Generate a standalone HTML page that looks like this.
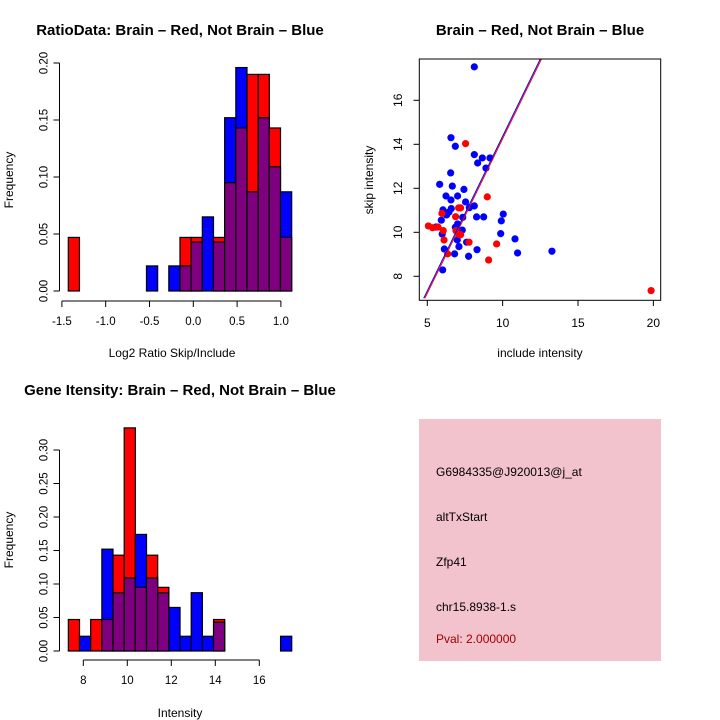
<!DOCTYPE html>
<html><head><meta charset="utf-8"><style>
body{margin:0;background:#fff}
svg{display:block;font-family:"Liberation Sans",sans-serif}
</style></head><body>
<svg id="c" width="720" height="720" viewBox="0 0 720 720">
<rect width="720" height="720" fill="#fff"/>
<text x="180" y="35" text-anchor="middle" font-size="15" font-weight="bold">RatioData: Brain – Red, Not Brain – Blue</text>
<text x="540" y="35" text-anchor="middle" font-size="15" font-weight="bold">Brain – Red, Not Brain – Blue</text>
<text x="180" y="395" text-anchor="middle" font-size="15" font-weight="bold">Gene Itensity: Brain – Red, Not Brain – Blue</text>
<text x="172" y="357" text-anchor="middle" font-size="12">Log2 Ratio Skip/Include</text>
<text x="540" y="357" text-anchor="middle" font-size="12">include intensity</text>
<text x="180" y="717" text-anchor="middle" font-size="12">Intensity</text>
<text transform="translate(13,180) rotate(-90)" text-anchor="middle" font-size="12">Frequency</text>
<text transform="translate(373,180) rotate(-90)" text-anchor="middle" font-size="12">skip intensity</text>
<text transform="translate(13,540) rotate(-90)" text-anchor="middle" font-size="12">Frequency</text>
<g>
<rect x="419" y="419" width="242" height="242" fill="#f2c2cd"/>
<text x="436" y="476" font-size="12">G6984335@J920013@j_at</text>
<text x="436" y="521" font-size="12">altTxStart</text>
<text x="436" y="566" font-size="12">Zfp41</text>
<text x="436" y="611" font-size="12">chr15.8938-1.s</text>
<text x="436" y="643" font-size="12" fill="#a00000">Pval: 2.000000</text>
</g>
</svg>
<script>
// Ratio histogram data
const ratioStart = -1.427, ratioWidth = 0.1275;
const ratioRed  = [0.047,0,0,0,0,0,0,0,0,0,0.047,0.047,0,0.047,0.095,0.143,0.19,0.19,0.143,0.047];
const ratioBlue = [0,0,0,0,0,0,0,0.022,0,0.022,0.022,0.043,0.065,0.043,0.152,0.196,0.087,0.152,0.109,0.087];
const ratioXTicks = [-1.5,-1.0,-0.5,0.0,0.5,1.0];
const ratioXLabels = ["-1.5","-1.0","-0.5","0.0","0.5","1.0"];
const ratioYTicks = [0,0.05,0.10,0.15,0.20];
const ratioYLabels = ["0.00","0.05","0.10","0.15","0.20"];
// Intensity histogram data
const intStart = 7.32, intWidth = 0.5077;
const intRed  = [0.047,0,0.047,0.047,0.143,0.333,0.095,0.143,0.095,0,0,0,0,0.047,0,0,0,0,0,0];
const intBlue = [0,0.022,0,0.152,0.087,0.109,0.174,0.109,0.087,0.065,0.022,0.087,0.022,0.043,0,0,0,0,0,0.022];
const intXTicks = [8,10,12,14,16];
const intXLabels = ["8","10","12","14","16"];
const intYTicks = [0,0.05,0.10,0.15,0.20,0.25,0.30];
const intYLabels = ["0.00","0.05","0.10","0.15","0.20","0.25","0.30"];
// Scatter data
const blueX = [8.12,6.57,6.86,8.12,8.65,9.16,8.34,8.89,6.55,5.82,6.66,7.43,6.24,7.01,6.57,7.54,8.12,7.79,6.59,6.04,6.44,6.28,7.35,8.27,8.74,10.04,9.91,5.93,7.01,6.86,5.58,7.32,5.99,9.87,6.99,7.61,10.82,6.13,7.1,8.3,13.27,10.99,6.81,7.74,6.02];
const blueY = [17.52,14.3,13.91,13.53,13.38,13.38,13.15,12.92,12.7,12.18,12.1,11.95,11.65,11.65,11.47,11.38,11.2,11.12,11.08,11.02,10.92,10.79,10.68,10.7,10.7,10.83,10.52,10.55,10.38,10.23,10.24,10.1,9.92,9.94,9.65,9.55,9.7,9.24,9.35,9.21,9.14,9.06,9.02,8.91,8.29];
const redX = [7.54,8.98,7.08,7.21,5.97,6.88,5.07,5.35,5.71,6.06,6.9,7.1,7.21,7.77,9.6,6.11,6.35,9.07,19.85];
const redY = [14.03,11.61,11.11,11.11,10.86,10.71,10.29,10.21,10.24,10.08,10.08,9.91,9.89,9.55,9.47,9.65,9.02,8.74,7.35];
const fitLineX = [4.8,12.54];
const fitLineY = [7.0,17.88];
const scatXTicks = [5,10,15,20];
const scatYTicks = [8,10,12,14,16];

const svg = document.getElementById('c');
const NS = 'http://www.w3.org/2000/svg';
function mk(tag, attrs, parent){const e=document.createElementNS(NS,tag);for(const k in attrs)e.setAttribute(k,attrs[k]);(parent||svg).appendChild(e);return e;}

function histogram(name, start, width, red, blue, xTicks, xLabels, yTicks, yLabels, sx, sy, xAxisY){
  const g = mk('g',{});
  
  
  for(let i=0;i<red.length;i++){
    const x0=sx(start+i*width), x1=sx(start+(i+1)*width);
    const r=red[i], b=blue[i];
    const hi=Math.max(r,b), lo=Math.min(r,b);
    if(hi>0){
      const bar=mk('rect',{x:x0,y:sy(hi),width:x1-x0,height:sy(0)-sy(hi),fill:r>=b?'#ff0000':'#0000ff',stroke:'#000','stroke-width':1.2},g);
      
      
    }
    if(lo>0){
      const ov=mk('rect',{x:x0,y:sy(lo),width:x1-x0,height:sy(0)-sy(lo),fill:'#7f007f',stroke:'#000','stroke-width':1.2},g);
      
      
    }
  }
  const yx = 59.5;
  mk('line',{x1:yx,x2:yx,y1:sy(yTicks[0]),y2:sy(yTicks[yTicks.length-1]),stroke:'#000'},g);
  yTicks.forEach((t,i)=>{
    mk('line',{x1:yx-6,x2:yx,y1:sy(t),y2:sy(t),stroke:'#000'},g);
    const tl=mk('text',{transform:`translate(${yx-12},${sy(t)}) rotate(-90)`,'text-anchor':'middle','font-size':11.5},g);
    tl.textContent=yLabels[i];
    
    
  });
  mk('line',{x1:sx(xTicks[0]),x2:sx(xTicks[xTicks.length-1]),y1:xAxisY,y2:xAxisY,stroke:'#000'},g);
  xTicks.forEach((t,i)=>{
    mk('line',{x1:sx(t),x2:sx(t),y1:xAxisY,y2:xAxisY+6,stroke:'#000'},g);
    const tl=mk('text',{x:sx(t),y:xAxisY+24,'text-anchor':'middle','font-size':11.5},g);
    tl.textContent=xLabels[i];
    
    
  });
}

histogram('ratio-histogram', ratioStart, ratioWidth, ratioRed, ratioBlue, ratioXTicks, ratioXLabels, ratioYTicks, ratioYLabels,
  v=>193.3+(v)*87.6, v=>291-v*1140, 301);
histogram('intensity-histogram', intStart, intWidth, intRed, intBlue, intXTicks, intXLabels, intYTicks, intYLabels,
  v=>83.3+(v-8)*22, v=>651-v*670, 660);

const px = v=>427.3+(v-5)*15.07;
const py = v=>276.3-(v-8)*22;
const sg = mk('g',{});


const cp = mk('clipPath',{id:'sclip'},sg);
mk('rect',{x:419.3,y:59,width:241.4,height:241.3},cp);
for(let i=0;i<blueX.length;i++){
  const p=mk('circle',{cx:px(blueX[i]),cy:py(blueY[i]),r:3.6,fill:'#0000ff'},sg);
  
  
}
for(let i=0;i<redX.length;i++){
  const p=mk('circle',{cx:px(redX[i]),cy:py(redY[i]),r:3.6,fill:'#ff0000'},sg);
  
  
}
const l1=mk('line',{x1:px(fitLineX[0])+0.6,y1:py(fitLineY[0]),x2:px(fitLineX[1])+0.6,y2:py(fitLineY[1]),stroke:'#ff0000','stroke-width':1,'clip-path':'url(#sclip)'},sg);


const l2=mk('line',{x1:px(fitLineX[0])-0.6,y1:py(fitLineY[0]),x2:px(fitLineX[1])-0.6,y2:py(fitLineY[1]),stroke:'#0000ff','stroke-width':1,'clip-path':'url(#sclip)'},sg);


mk('rect',{x:419.3,y:59,width:241.4,height:241.3,fill:'none',stroke:'#000','stroke-width':1},sg);
scatXTicks.forEach(t=>{
  mk('line',{x1:px(t),x2:px(t),y1:300.3,y2:306,stroke:'#000'},sg);
  const tl=mk('text',{x:px(t),y:327,'text-anchor':'middle','font-size':12},sg);
  tl.textContent=String(t);
  
  
});
scatYTicks.forEach(t=>{
  mk('line',{x1:413.5,x2:419.3,y1:py(t),y2:py(t),stroke:'#000'},sg);
  const tl=mk('text',{transform:`translate(402,${py(t)}) rotate(-90)`,'text-anchor':'middle','font-size':12},sg);
  tl.textContent=String(t);
  
  
});
</script>
</body></html>
